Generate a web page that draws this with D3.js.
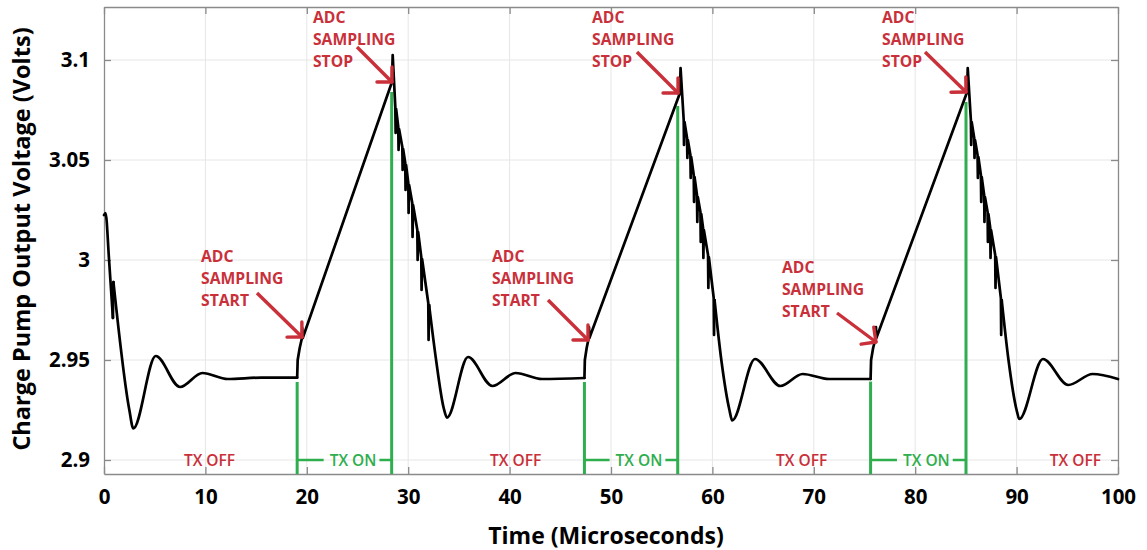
<!DOCTYPE html>
<html><head><meta charset="utf-8">
<script src="https://cdn.jsdelivr.net/npm/d3@7"></script>
<style>
body{margin:0;background:#fff;}
svg{display:block;font-family:"Open Sans",sans-serif;}
</style>
</head><body>
<svg id="chart" width="1147" height="550"></svg>
<script>
// ---------- data ----------
const timeUs = [
0,0.15,0.5,0.88,0.93,2.5,2.89,5.1,7.5,9.7,12.2,15.5,19.05,
19.1,19.3,19.5,19.55,19.6,28.4,28.47,
28.73,28.76,28.81,29.02,29.05,29.10,29.42,29.45,29.50,29.71,29.74,29.79,30.01,30.04,30.09,30.40,30.43,30.48,30.90,30.93,30.98,31.29,31.32,31.37,31.98,32.01,32.06,
32.75,33.5,33.83,35.9,38.3,40.6,43.2,47.38,
47.42,47.6,47.78,47.83,47.87,56.8,56.86,
57.17,57.20,57.25,57.50,57.53,57.58,57.83,57.86,57.91,58.16,58.19,58.24,58.48,58.51,58.56,58.82,58.85,58.90,59.08,59.11,59.16,59.57,59.60,59.65,60.13,60.16,60.21,
60.88,61.68,61.95,64.2,66.7,68.9,71.5,75.6,
75.65,75.85,76.08,76.13,76.17,85.12,85.18,
85.49,85.52,85.57,85.82,85.85,85.90,86.15,86.18,86.23,86.48,86.51,86.56,86.80,86.83,86.88,87.14,87.17,87.22,87.40,87.43,87.48,87.89,87.92,87.97,88.45,88.48,88.53,
89.2,90.0,90.27,92.6,95.1,97.5,100
];
const voltageV = [
3.0225,3.0235,3.0,2.971,2.989,2.925,2.9158,2.952,2.9365,2.9435,2.9405,2.9412,2.9412,
2.95,2.956,2.9605,2.966,2.961,3.089,3.1025,
3.0765,3.0635,3.0755,3.0665,3.055,3.0655,3.0565,3.045,3.0555,3.0485,3.035,3.0475,3.0385,3.0235,3.0375,3.0285,3.0115,3.0275,3.015,3.0,3.014,3.0015,2.985,3.0005,2.9785,2.96,2.9775,
2.95,2.926,2.9212,2.9515,2.937,2.9435,2.9405,2.941,
2.95,2.956,2.9605,2.9665,2.961,3.0835,3.096,
3.07,3.0575,3.069,3.061,3.051,3.06,3.0525,3.041,3.0515,3.0425,3.029,3.0415,3.0325,3.019,3.0315,3.024,3.009,3.023,3.016,3.001,3.015,3.0025,2.986,3.0015,2.981,2.9625,2.98,
2.95,2.925,2.9198,2.9505,2.937,2.943,2.9405,2.9405,
2.95,2.956,2.9605,2.9665,2.961,3.084,3.096,
3.07,3.0575,3.069,3.061,3.051,3.06,3.0525,3.041,3.0515,3.0425,3.029,3.0415,3.0325,3.019,3.0315,3.024,3.009,3.023,3.016,3.001,3.015,3.0025,2.986,3.0015,2.981,2.9625,2.98,
2.95,2.925,2.9205,2.9505,2.9375,2.943,2.9405
];
// time spans (µs) where the trace is a smooth ringing rather than ramps / switching spikes
const smoothSpans = [[0,0.88],[0.93,19.05],[32.06,47.38],[60.21,75.6],[88.53,100]];

const xTicks = [0,10,20,30,40,50,60,70,80,90,100];
const yTicks = [2.9,2.95,3,3.05,3.1];
const yTickLabels = ["2.9","2.95","3","3.05","3.1"];

const txOnStart = [19.05,47.38,75.6];
const txOnEnd = [28.37,56.58,85.01];
const txOnStartTop = [2.939,2.939,2.9392];
const txOnEndTop = [3.084,3.077,3.079];
const txOnLabelAt = [24.56,52.76,81.1];
const txOffLabelAt = [10.4,40.6,68.8,95.8];
const txLabelLevel = 2.9;

const annLines = [
  ["ADC","SAMPLING","START"],["ADC","SAMPLING","STOP"],
  ["ADC","SAMPLING","START"],["ADC","SAMPLING","STOP"],
  ["ADC","SAMPLING","START"],["ADC","SAMPLING","STOP"]
];
const annTextT = [9.57,20.61,38.26,48.13,66.86,76.73];
const annTextV = [2.999,3.1185,2.999,3.1185,2.9935,3.1185];
const annTailT = [15.09,24.95,43.79,52.56,72.29,80.97];
const annTailV = [2.9835,3.1065,2.98,3.104,2.9735,3.104];
const annTipT  = [19.53,28.40,47.73,56.61,76.13,85.01];
const annTipV  = [2.9615,3.089,2.96,3.0835,2.959,3.084];

// ---------- chart ----------
(function draw(){
const W = 1147, H = 550;
const pL = 104, pR = 1118, pT = 7, pB = 474;
const RED = "#c9303a", GREEN = "#2fae4e", AXIS = "#8a8a8a", GRID = "#e6e6e6";

const svg = d3.select("#chart");
svg.append("rect").attr("width", W).attr("height", H).attr("fill", "#fff");

const x = d3.scaleLinear().domain([0,100]).range([pL,pR]);
const y = d3.scaleLinear().domain([2.9,3.1]).range([460,60]);

// grid
const grid = svg.append("g");
grid.selectAll("line.gx").data(xTicks.slice(1,-1)).join("line")
  .attr("x1", d=>x(d)).attr("x2", d=>x(d)).attr("y1", pT).attr("y2", pB)
  .attr("stroke", GRID).attr("stroke-width", 1);
grid.selectAll("line.gy").data(yTicks).join("line")
  .attr("y1", d=>y(d)).attr("y2", d=>y(d)).attr("x1", pL).attr("x2", pR)
  .attr("stroke", GRID).attr("stroke-width", 1);

function styleAxis(g){
  g.selectAll("path.domain").attr("stroke", AXIS).attr("stroke-width", 1.3);
  g.selectAll(".tick line").attr("stroke", AXIS).attr("stroke-width", 1.3);
  g.selectAll(".tick text").attr("fill", "#000").attr("font-size", 20.5)
    .attr("font-weight", 700).attr("font-family", '"Open Sans",sans-serif');
}
svg.append("g").attr("transform", `translate(0,${pB})`)
  .call(d3.axisBottom(x).tickValues(xTicks).tickSize(-7).tickSizeOuter(0).tickPadding(15).tickFormat(d3.format("d")))
  .call(styleAxis);
svg.append("g").attr("transform", `translate(0,${pT})`)
  .call(d3.axisTop(x).tickValues(xTicks).tickSize(-7).tickSizeOuter(0).tickFormat(""))
  .call(styleAxis);
const yAxisScale = d3.scaleLinear().domain([y.invert(pB), y.invert(pT)]).range([pB, pT]);
svg.append("g").attr("transform", `translate(${pL},0)`)
  .call(d3.axisLeft(yAxisScale).tickValues(yTicks).tickSize(-7).tickSizeOuter(0).tickPadding(14)
    .tickFormat((d,i)=>yTickLabels[i]))
  .call(styleAxis);
svg.append("g").attr("transform", `translate(${pR},0)`)
  .call(d3.axisRight(yAxisScale).tickValues(yTicks).tickSize(-7).tickSizeOuter(0).tickFormat(""))
  .call(styleAxis);

// axis titles
svg.append("text").attr("x", 606).attr("y", 544).attr("text-anchor","middle")
  .attr("font-size", 23).attr("font-weight", 700).text("Time (Microseconds)");
svg.append("text").attr("transform", `translate(30,239) rotate(-90)`)
  .attr("text-anchor","middle").attr("font-size", 23.5).attr("font-weight", 700)
  .text("Charge Pump Output Voltage (Volts)");

// TX ON green markers
const green = svg.append("g");
txOnStart.forEach((t,i)=>{
  green.append("line").attr("x1", x(t)).attr("x2", x(t)).attr("y1", y(txOnStartTop[i])).attr("y2", pB)
    .attr("stroke", GREEN).attr("stroke-width", 3);
  green.append("line").attr("x1", x(txOnEnd[i])).attr("x2", x(txOnEnd[i])).attr("y1", y(txOnEndTop[i])).attr("y2", pB)
    .attr("stroke", GREEN).attr("stroke-width", 3);
  const lbl = green.append("text").attr("x", x(txOnLabelAt[i])).attr("y", y(txLabelLevel)).attr("dy","0.36em")
    .attr("text-anchor","middle").attr("font-size", 15.5).attr("font-weight", 600).attr("fill", GREEN).text("TX ON");
  const bb = lbl.node().getBBox();
  green.append("line").attr("x1", x(t)).attr("x2", bb.x - 6).attr("y1", y(txLabelLevel)).attr("y2", y(txLabelLevel))
    .attr("stroke", GREEN).attr("stroke-width", 2.5);
  green.append("line").attr("x1", bb.x + bb.width + 3).attr("x2", x(txOnEnd[i])).attr("y1", y(txLabelLevel)).attr("y2", y(txLabelLevel))
    .attr("stroke", GREEN).attr("stroke-width", 2.5);
});
svg.append("g").selectAll("text").data(txOffLabelAt).join("text")
  .attr("x", d=>x(d)).attr("y", y(txLabelLevel)).attr("dy","0.36em").attr("text-anchor","middle")
  .attr("font-size", 15.5).attr("font-weight", 600).attr("fill", RED).text("TX OFF");

// waveform: smooth ringing spans drawn with a monotone curve, ramps/spikes drawn straight
const idx = d3.range(timeUs.length);
const pieces = [];
let cursor = 0;
smoothSpans.forEach(([a,b])=>{
  if (a > cursor) pieces.push({smooth:false, a:cursor, b:a});
  pieces.push({smooth:true, a, b});
  cursor = b;
});
if (cursor < 100) pieces.push({smooth:false, a:cursor, b:100});
const wave = svg.append("g");
pieces.forEach(p=>{
  const pts = idx.filter(i=>timeUs[i] >= p.a-1e-9 && timeUs[i] <= p.b+1e-9);
  if (pts.length < 2) return;
  const gen = d3.line().x(i=>x(timeUs[i])).y(i=>y(voltageV[i]))
    .curve(p.smooth ? d3.curveMonotoneX : d3.curveLinear);
  wave.append("path").attr("d", gen(pts)).attr("fill","none").attr("stroke","#000")
    .attr("stroke-width", 2.7).attr("stroke-linejoin","round").attr("stroke-linecap","round");
});

// annotations
const ann = svg.append("g");
annLines.forEach((lines,i)=>{
  const tx = ann.append("text").attr("x", x(annTextT[i])).attr("y", y(annTextV[i]))
    .attr("font-size", 15.7).attr("font-weight", 700).attr("fill", RED);
  lines.forEach((s,k)=> tx.append("tspan").attr("x", x(annTextT[i])).attr("dy", k===0?0:22).text(s));
  const x1 = x(annTailT[i]), y1 = y(annTailV[i]), x2 = x(annTipT[i]), y2 = y(annTipV[i]);
  ann.append("line").attr("x1",x1).attr("y1",y1).attr("x2",x2).attr("y2",y2)
    .attr("stroke", RED).attr("stroke-width", 3.4);
  const ang = Math.atan2(y1-y2, x1-x2), L = 15;
  [ang-Math.PI/4, ang+Math.PI/4].forEach(a=>{
    ann.append("line").attr("x1",x2).attr("y1",y2).attr("x2",x2+L*Math.cos(a)).attr("y2",y2+L*Math.sin(a))
      .attr("stroke", RED).attr("stroke-width", 3.4).attr("stroke-linecap","round");
  });
});
})();
</script>
</body></html>
